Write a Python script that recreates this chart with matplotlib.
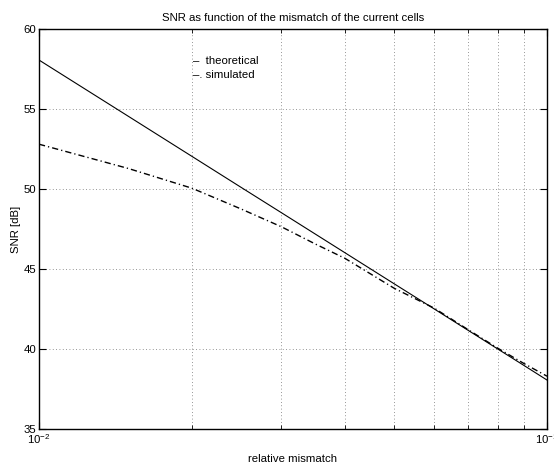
import matplotlib
matplotlib.use("Agg")
import matplotlib.pyplot as plt
from matplotlib.ticker import LogLocator, NullFormatter, FixedLocator

plt.rcParams['font.family'] = ['Liberation Sans', 'DejaVu Sans']

# relative mismatch values (x)
mismatch = [0.01, 0.015, 0.02, 0.025, 0.03, 0.035, 0.04, 0.05, 0.06, 0.07, 0.08, 0.09, 0.1]
# SNR in dB
snr_theory = [58.06, 54.54, 52.04, 50.10, 48.52, 47.18, 46.02, 44.08, 42.50, 41.16, 40.00, 38.98, 38.06]
snr_sim = [52.80, 51.28, 50.05, 48.75, 47.64, 46.56, 45.67, 43.80, 42.55, 41.20, 40.05, 39.10, 38.30]

y_ticks = [35, 40, 45, 50, 55, 60]
legend_labels = ['theoretical', 'simulated']

fig = plt.figure(figsize=(5.54, 4.63), dpi=100)
ax = fig.add_axes([39 / 554, 34 / 463, 508 / 554, 400 / 463])

ax.semilogx(mismatch, snr_theory, color='black', linewidth=0.8, linestyle='-')
ax.semilogx(mismatch, snr_sim, color='black', linewidth=1.0, linestyle=(0, (4.5, 2.2, 0.9, 2.2)))

ax.set_xlim(0.01, 0.1)
ax.set_ylim(35, 60)
ax.set_yticks(y_ticks)
ax.xaxis.set_major_locator(FixedLocator([0.01, 0.1]))
ax.xaxis.set_minor_locator(LogLocator(base=10, subs=range(2, 10)))
ax.xaxis.set_minor_formatter(NullFormatter())

ax.grid(True, which='both', axis='x', linestyle=(0, (1, 3)), color='black', linewidth=0.6, alpha=0.55)
ax.grid(True, which='major', axis='y', linestyle=(0, (1, 3)), color='black', linewidth=0.6, alpha=0.55)

ax.tick_params(which='both', direction='in', top=True, right=True, labelsize=8.2, pad=2)
ax.tick_params(which='major', length=5, width=0.8)
ax.tick_params(which='minor', length=3, width=0.6)
for sp in ax.spines.values():
    sp.set_linewidth(1.0)

ax.set_title('SNR as function of the mismatch of the current cells', fontsize=8.2, pad=6)
ax.set_xlabel('relative mismatch', fontsize=8.2, labelpad=6)
ax.set_ylabel('SNR [dB]', fontsize=8.2, labelpad=2)

# old-style legend: plain text with line symbols
ax.text(0.0201, 58.0, '\u2013  ' + legend_labels[0], fontsize=8.2, va='center')
ax.text(0.0201, 57.15, '\u2013. ' + legend_labels[1], fontsize=8.2, va='center')

fig.savefig('out.png', dpi=100)
